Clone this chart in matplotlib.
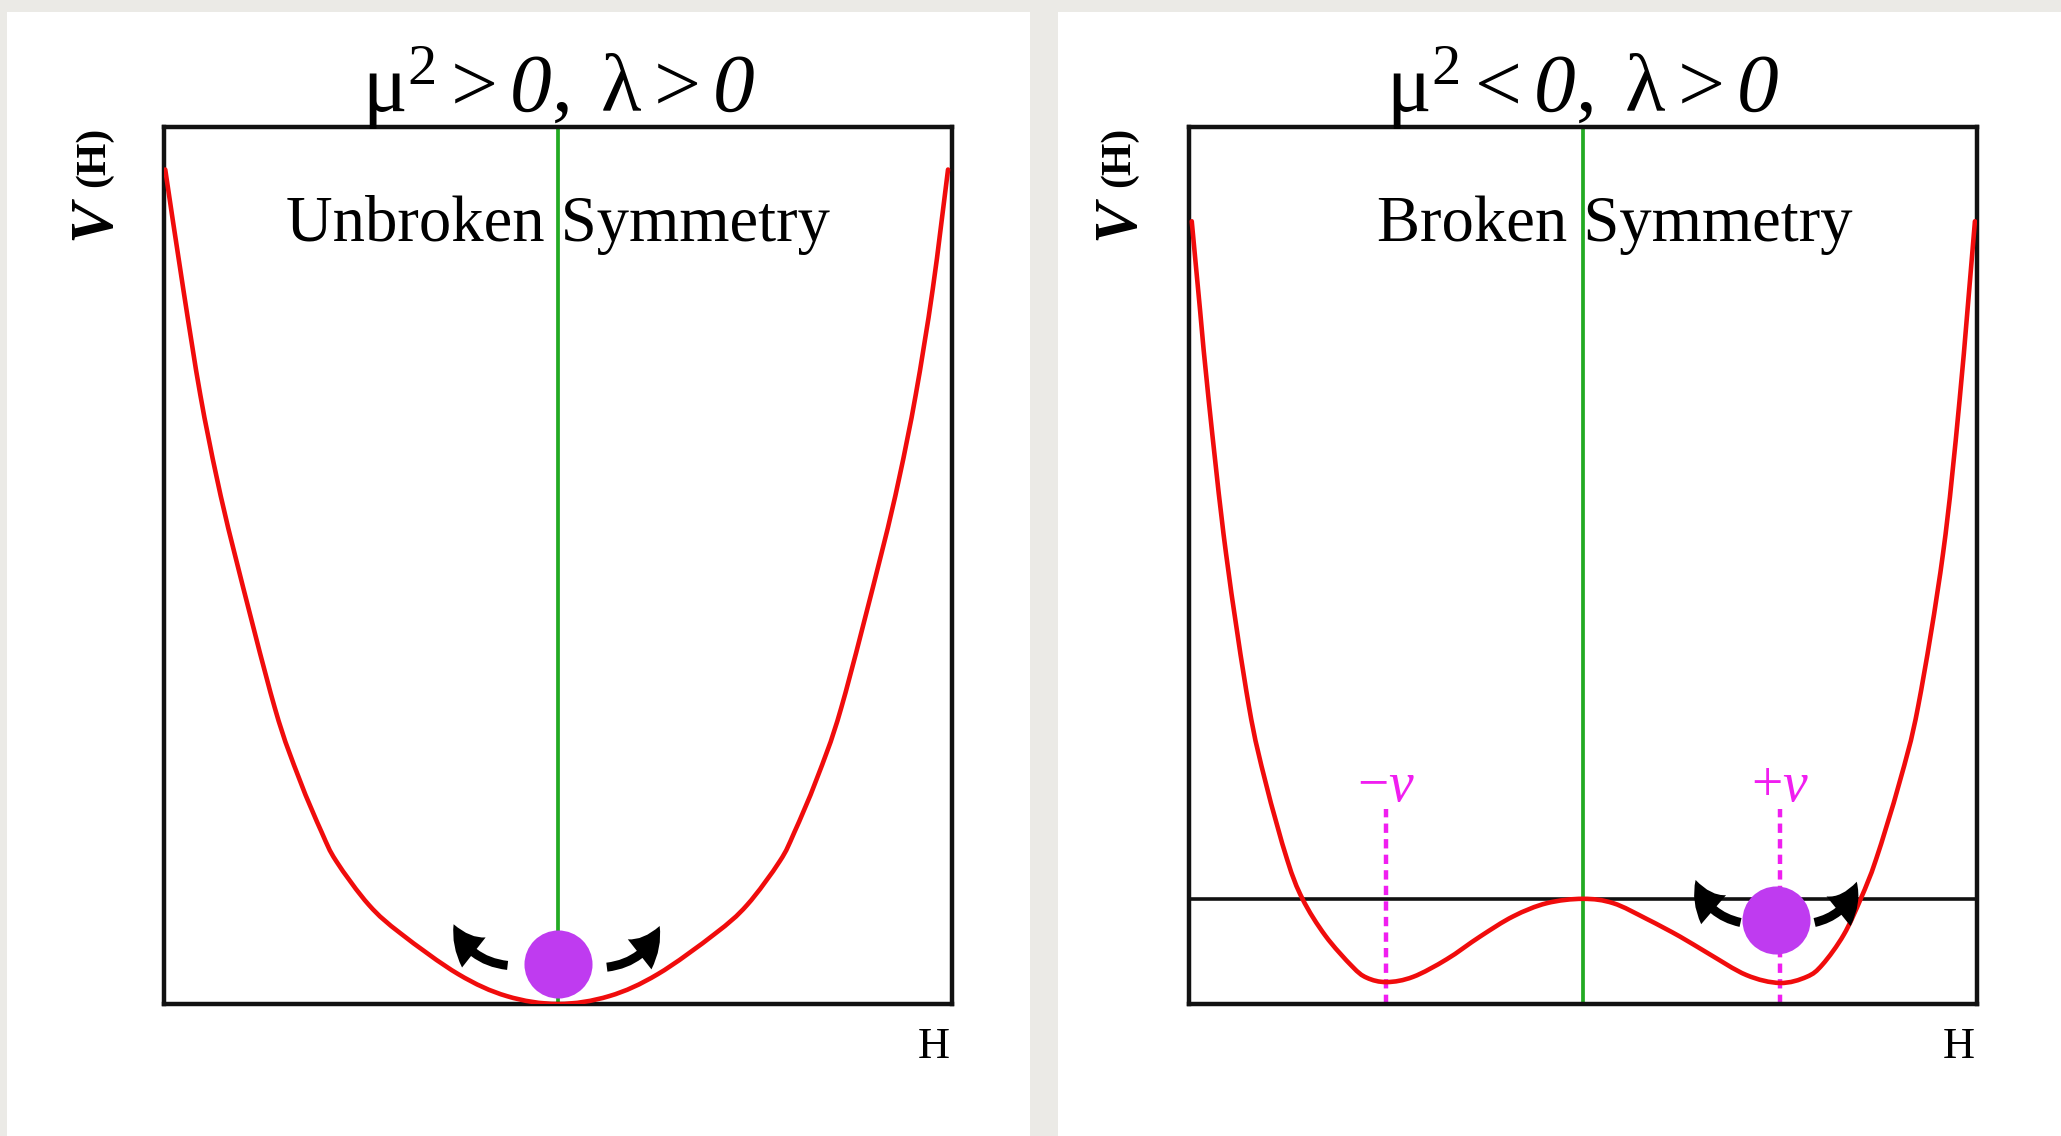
"""Higgs potential: unbroken vs broken symmetry."""

import matplotlib

matplotlib.use("Agg")
import matplotlib.pyplot as plt
from matplotlib.patches import FancyArrowPatch, PathPatch, Rectangle
from matplotlib.path import Path

# V(H); H scaled so the frame spans [-1, 1], V spans [0, 1]
UNBROKEN_H = [-0.997, -0.951, -0.908, -0.866, -0.821, -0.719, -0.656, -0.600,
              -0.563, -0.480, -0.398, -0.253, -0.130, 0.0, 0.130, 0.253,
              0.398, 0.480, 0.563, 0.600, 0.656, 0.719, 0.821, 0.866, 0.908,
              0.951, 0.990]
UNBROKEN_V = [0.952, 0.815, 0.695, 0.600, 0.514, 0.338, 0.256, 0.196,
              0.163, 0.113, 0.080, 0.034, 0.009, 0.0, 0.009, 0.034,
              0.080, 0.113, 0.163, 0.196, 0.256, 0.338, 0.514, 0.600, 0.695,
              0.815, 0.952]

BROKEN_H = [-0.993, -0.972, -0.950, -0.906, -0.848, -0.805, -0.751, -0.712,
            -0.654, -0.586, -0.549, -0.498, -0.431, -0.346, -0.261, -0.177,
            -0.092, 0.0, 0.077, 0.162, 0.246, 0.317, 0.415, 0.500, 0.568,
            0.608, 0.662, 0.706, 0.744, 0.803, 0.851, 0.914, 0.956, 0.995]
BROKEN_V = [0.893, 0.792, 0.689, 0.514, 0.340, 0.252, 0.165, 0.120,
            0.078, 0.043, 0.030, 0.025, 0.031, 0.051, 0.077, 0.100,
            0.115, 0.120, 0.115, 0.097, 0.077, 0.058, 0.033, 0.024, 0.031,
            0.045, 0.079, 0.121, 0.165, 0.252, 0.340, 0.514, 0.689, 0.893]

BARRIER_V = 0.12
VEV_H = [-0.5, 0.5]
VEV_TOP = 0.222
VEV_LABEL_V = 0.247
VEV_LABELS = ["$-v$", "$+v$"]

TITLES = [r"$\mathrm{\mu}^{2} > \mathsf{0},\;\mathrm{\lambda} > \mathsf{0}$",
          r"$\mathrm{\mu}^{2} < \mathsf{0},\;\mathrm{\lambda} > \mathsf{0}$"]
PHASES = ["Unbroken Symmetry", "Broken Symmetry"]
PHASE_H = [0.0, 0.08]
PHASE_V = 0.87

BALL_H = [0.0, 0.489]
BALL_V = [0.046, 0.096]

# (tail, tip) of the two little curved arrows beside each ball
ARROW_TAILS = [[(-0.128, 0.044), (0.124, 0.042)],
               [(0.400, 0.093), (0.588, 0.093)]]
ARROW_TIPS = [[(-0.265, 0.091), (0.258, 0.089)],
              [(0.286, 0.1415), (0.695, 0.1395)]]

RED = "#f00c0c"
GREEN = "#22aa22"
MAGENTA = "#f01ef0"
PURPLE = "#bf3bf0"
SERIF = "Liberation Serif"

plt.rcParams["font.family"] = [SERIF, "DejaVu Serif"]
plt.rcParams["mathtext.fontset"] = "custom"
plt.rcParams["mathtext.rm"] = SERIF
plt.rcParams["mathtext.it"] = SERIF + ":italic"
plt.rcParams["mathtext.sf"] = SERIF + ":italic"
plt.rcParams["mathtext.bf"] = SERIF + ":bold"


def smooth_curve(h, v):
    """Catmull-Rom path through the read points (drawn as cubic Beziers)."""
    pts = list(zip(h, v))
    verts, codes = [pts[0]], [Path.MOVETO]
    n = len(pts)
    for i in range(n - 1):
        p0 = pts[max(i - 1, 0)]
        p1, p2 = pts[i], pts[i + 1]
        p3 = pts[min(i + 2, n - 1)]
        c1 = (p1[0] + (p2[0] - p0[0]) / 6, p1[1] + (p2[1] - p0[1]) / 6)
        c2 = (p2[0] - (p3[0] - p1[0]) / 6, p2[1] - (p3[1] - p1[1]) / 6)
        verts += [c1, c2, p2]
        codes += [Path.CURVE4] * 3
    return Path(verts, codes)


def draw_panel(ax, h, v, idx, broken):
    ax.set_xlim(-1, 1)
    ax.set_ylim(0, 1)
    ax.set_xticks([])
    ax.set_yticks([])
    for sp in ax.spines.values():
        sp.set_linewidth(3.2)
        sp.set_color("#111111")

    ax.axvline(0, color=GREEN, lw=2.7, zorder=2)
    if broken:
        ax.axhline(BARRIER_V, color="#111111", lw=2.6, zorder=2)
        ax.vlines(VEV_H, 0, VEV_TOP, colors=MAGENTA, lw=3.2,
                  linestyles=(0, (2.1, 1.4)), zorder=2)
        for x, lab in zip(VEV_H, VEV_LABELS):
            ax.text(x, VEV_LABEL_V, lab, color=MAGENTA, fontsize=40,
                    ha="center", va="center")
    ax.add_patch(PathPatch(smooth_curve(h, v), fill=False, edgecolor=RED,
                           lw=3.3, capstyle="round", zorder=3))

    ax.plot(BALL_H[idx], BALL_V[idx], "o", ms=49, color=PURPLE,
            markeredgewidth=0, zorder=5)
    for (tail, tip) in zip(ARROW_TAILS[idx], ARROW_TIPS[idx]):
        rad = -0.3 if tip[0] < tail[0] else 0.3
        ax.add_patch(FancyArrowPatch(
            tail, tip, connectionstyle=f"arc3,rad={rad}",
            arrowstyle="simple,head_length=0.5,head_width=0.55,tail_width=0.13",
            mutation_scale=50, lw=0, color="black",
            shrinkA=0, shrinkB=0, zorder=6))

    ax.annotate(TITLES[idx], xy=(0, 1), xycoords=("data", "axes fraction"),
                xytext=(0, 11), textcoords="offset points",
                ha="center", va="baseline", fontsize=60)
    ax.text(PHASE_H[idx], PHASE_V, PHASES[idx], ha="center", va="baseline",
            fontsize=46.5, zorder=4)
    ax.annotate("H", xy=(0.955, 0), xycoords=("data", "axes fraction"),
                xytext=(0, -31), textcoords="offset points",
                ha="center", va="center", fontsize=32)
    ax.text(-0.089, 0.895, "V", transform=ax.transAxes, rotation=90,
            ha="center", va="center", fontsize=44, style="italic",
            weight="bold")
    ax.text(-0.089, 0.967, "(H)", transform=ax.transAxes, rotation=90,
            ha="center", va="center", fontsize=30, weight="bold")


fig = plt.figure(figsize=(20.61, 11.36), dpi=100, facecolor="#ebeae6")
for x0, w in [(0.0034, 0.4964), (0.5133, 0.4867)]:
    fig.patches.append(Rectangle((x0, 0), w, 0.9894,
                                 transform=fig.transFigure, facecolor="white",
                                 edgecolor="none", zorder=-5))

ax_left = fig.add_axes([0.0796, 0.1162, 0.3823, 0.7716])
ax_right = fig.add_axes([0.5769, 0.1162, 0.3823, 0.7716])
draw_panel(ax_left, UNBROKEN_H, UNBROKEN_V, 0, broken=False)
draw_panel(ax_right, BROKEN_H, BROKEN_V, 1, broken=True)

fig.savefig("out.png", dpi=100, facecolor=fig.get_facecolor())
